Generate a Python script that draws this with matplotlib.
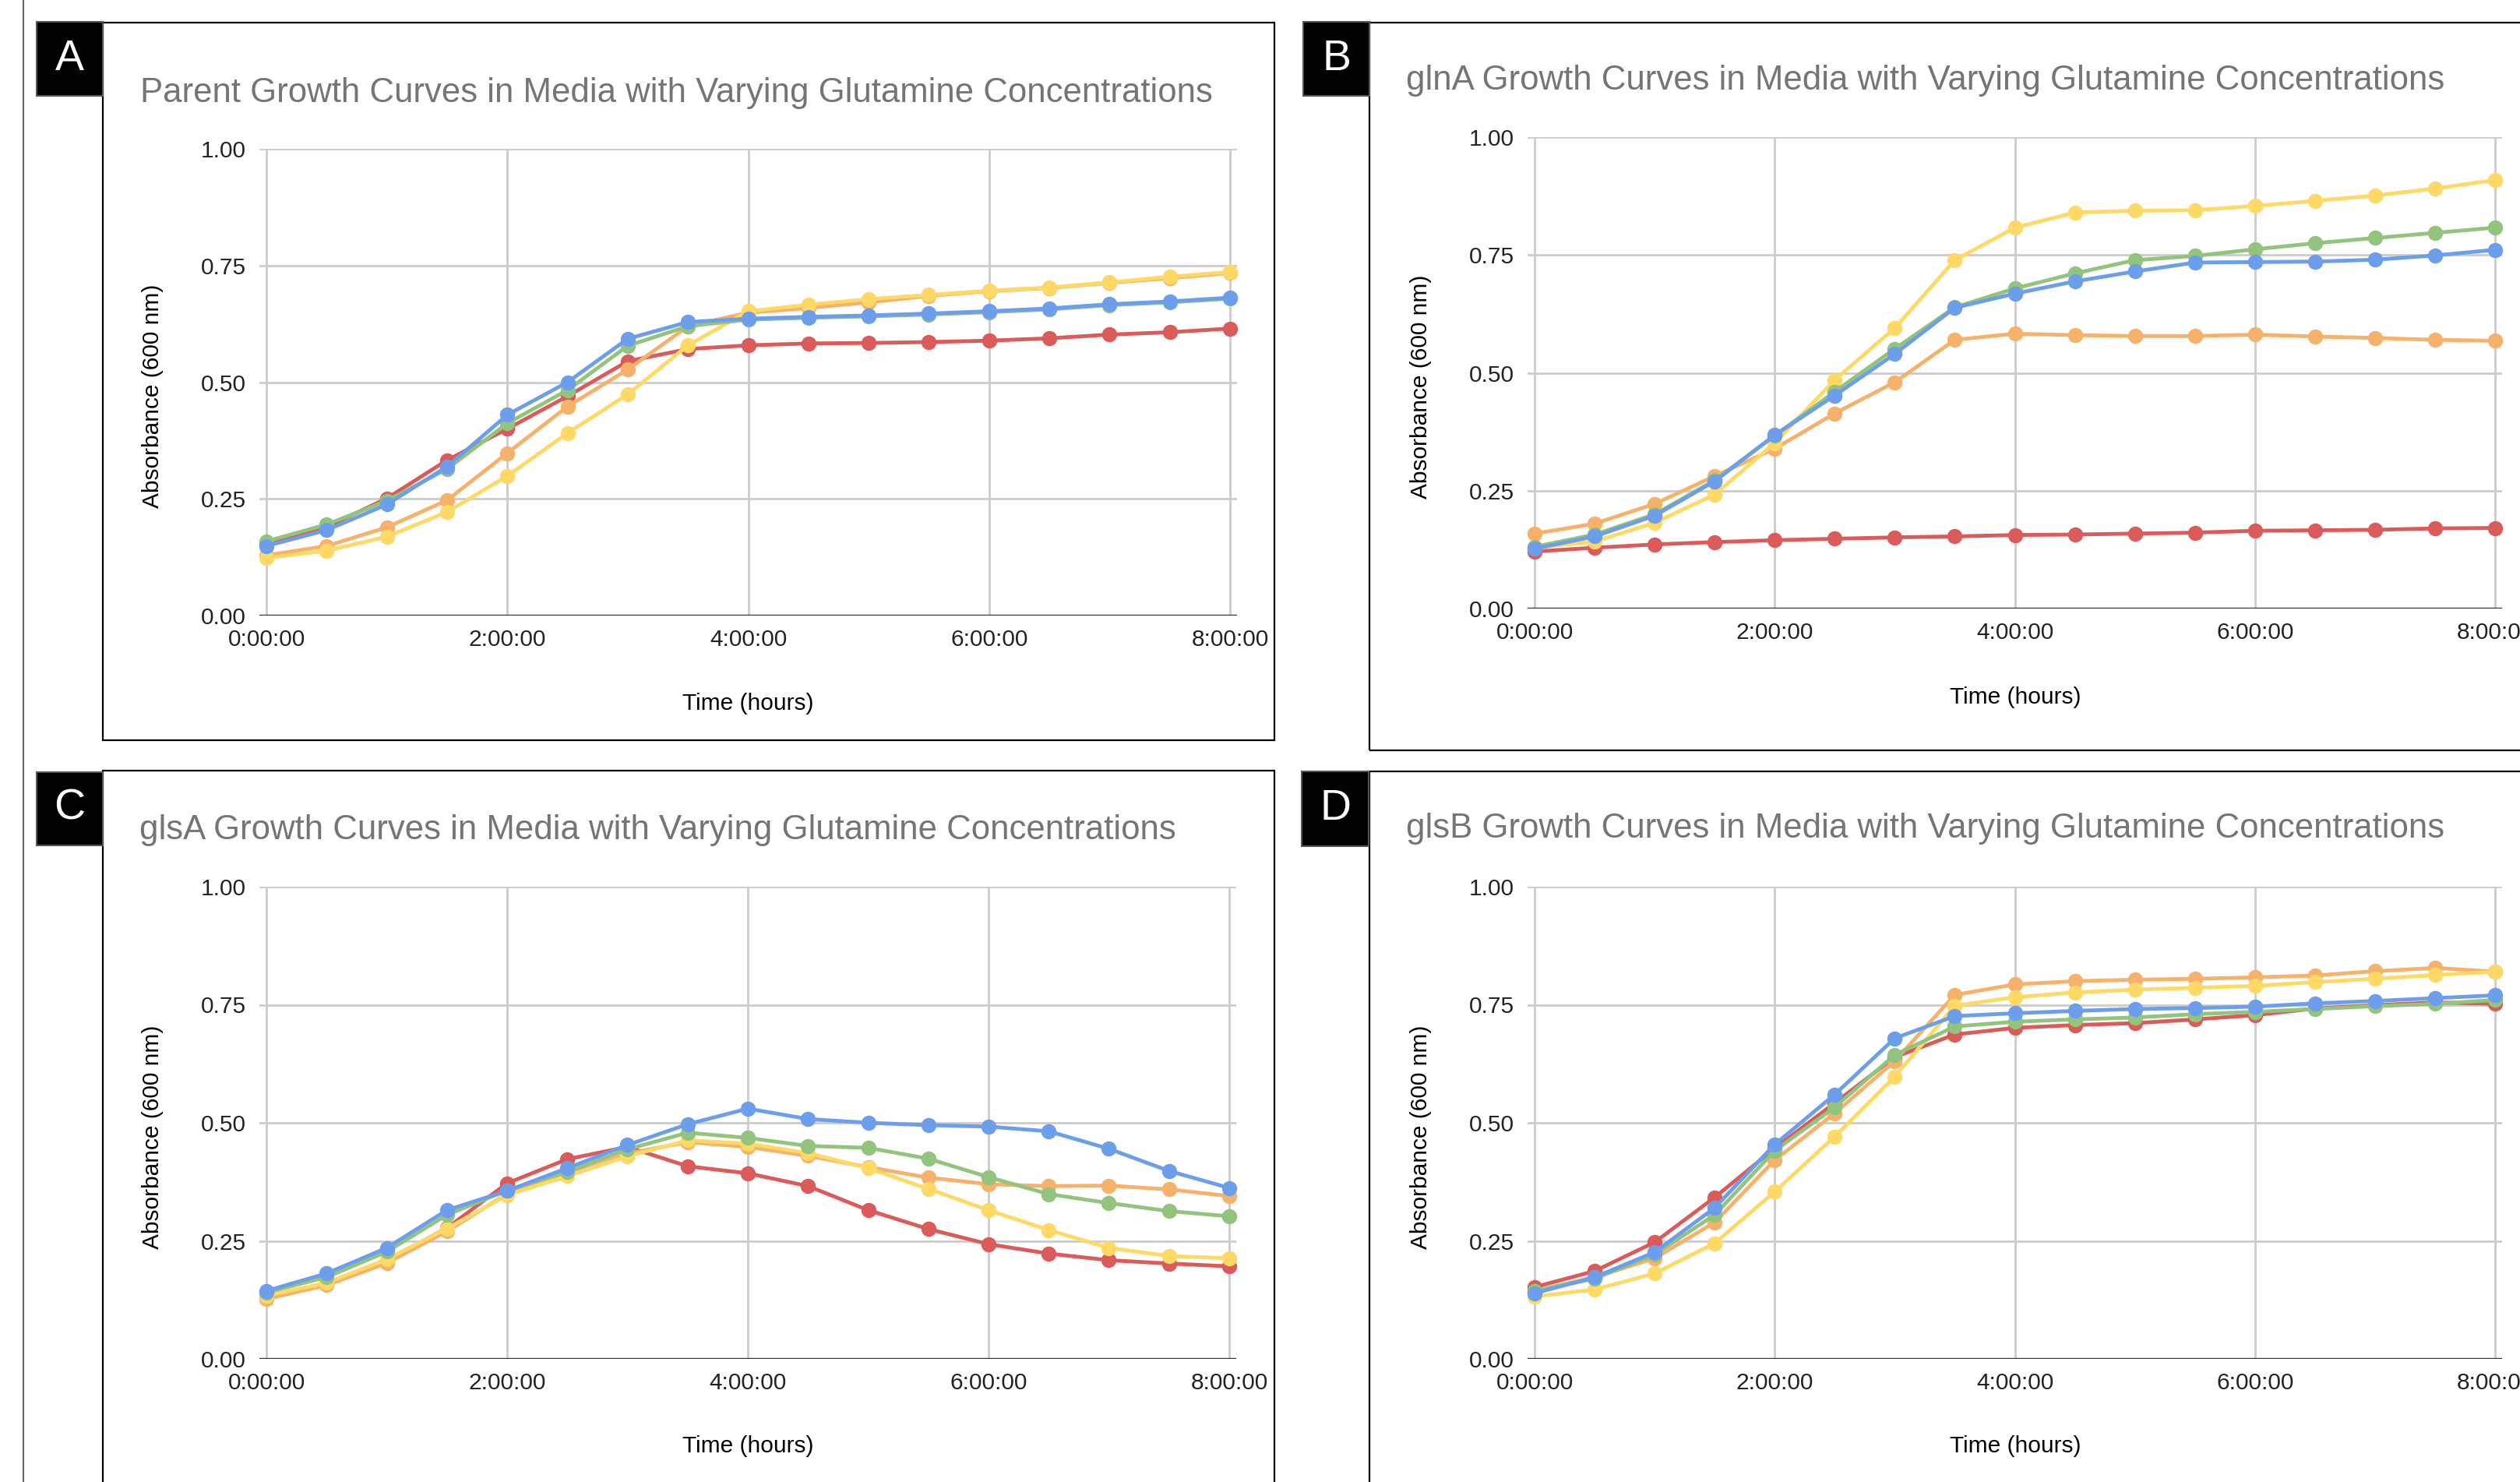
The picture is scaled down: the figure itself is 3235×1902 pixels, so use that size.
import matplotlib
matplotlib.use("Agg")
import matplotlib.pyplot as plt
from matplotlib.patches import Rectangle
from matplotlib.lines import Line2D

W, H = 3235, 1902
plt.rcParams["font.family"] = ["Liberation Sans", "DejaVu Sans"]

HOURS = [0, 0.5, 1, 1.5, 2, 2.5, 3, 3.5, 4, 4.5, 5, 5.5, 6, 6.5, 7, 7.5, 8]
TICK_HOURS = [0, 2, 4, 6, 8]
TICK_LABELS = ["0:00:00", "2:00:00", "4:00:00", "6:00:00", "8:00:00"]
Y_TICKS = [0.0, 0.25, 0.5, 0.75, 1.0]
Y_LABELS = ["0.00", "0.25", "0.50", "0.75", "1.00"]

RED, ORANGE, YELLOW, GREEN, BLUE = "#DB5A5A", "#F6B26B", "#FFD966", "#93C47D", "#6D9EEB"

# panel A - parent
parent_red = [0.154, 0.19, 0.251, 0.333, 0.40, 0.47, 0.545, 0.571, 0.579, 0.583, 0.584, 0.586, 0.589, 0.594, 0.602, 0.607, 0.615]
parent_orange = [0.129, 0.149, 0.189, 0.247, 0.348, 0.448, 0.527, 0.620, 0.649, 0.659, 0.671, 0.685, 0.695, 0.702, 0.713, 0.723, 0.734]
parent_yellow = [0.123, 0.139, 0.169, 0.222, 0.299, 0.391, 0.474, 0.579, 0.652, 0.666, 0.678, 0.687, 0.696, 0.703, 0.714, 0.726, 0.736]
parent_green = [0.159, 0.195, 0.246, 0.314, 0.412, 0.483, 0.578, 0.620, 0.634, 0.638, 0.641, 0.645, 0.650, 0.656, 0.665, 0.671, 0.679]
parent_blue = [0.149, 0.183, 0.238, 0.319, 0.43, 0.50, 0.593, 0.629, 0.636, 0.640, 0.643, 0.647, 0.652, 0.658, 0.667, 0.673, 0.681]

# panel B - glnA
glna_red = [0.121, 0.129, 0.136, 0.141, 0.145, 0.148, 0.151, 0.153, 0.156, 0.157, 0.159, 0.161, 0.165, 0.166, 0.167, 0.170, 0.171]
glna_orange = [0.159, 0.180, 0.222, 0.281, 0.339, 0.414, 0.480, 0.570, 0.583, 0.580, 0.578, 0.578, 0.581, 0.577, 0.574, 0.570, 0.568]
glna_yellow = [0.129, 0.142, 0.182, 0.242, 0.351, 0.485, 0.595, 0.739, 0.808, 0.840, 0.844, 0.845, 0.854, 0.865, 0.876, 0.891, 0.909]
glna_green = [0.131, 0.157, 0.200, 0.272, 0.367, 0.460, 0.551, 0.639, 0.679, 0.711, 0.739, 0.748, 0.762, 0.775, 0.786, 0.797, 0.808]
glna_blue = [0.127, 0.153, 0.197, 0.270, 0.368, 0.452, 0.540, 0.638, 0.668, 0.694, 0.715, 0.734, 0.735, 0.736, 0.740, 0.749, 0.761]

# panel C - glsA
glsa_red = [0.134, 0.159, 0.208, 0.277, 0.372, 0.423, 0.449, 0.408, 0.393, 0.366, 0.315, 0.275, 0.243, 0.223, 0.209, 0.202, 0.196]
glsa_orange = [0.127, 0.156, 0.203, 0.270, 0.350, 0.389, 0.435, 0.459, 0.449, 0.430, 0.406, 0.384, 0.370, 0.366, 0.367, 0.359, 0.345]
glsa_yellow = [0.134, 0.161, 0.211, 0.276, 0.347, 0.387, 0.429, 0.463, 0.456, 0.436, 0.404, 0.360, 0.315, 0.273, 0.235, 0.218, 0.213]
glsa_green = [0.141, 0.173, 0.227, 0.305, 0.357, 0.396, 0.444, 0.479, 0.468, 0.451, 0.447, 0.424, 0.385, 0.349, 0.330, 0.313, 0.302]
glsa_blue = [0.144, 0.181, 0.235, 0.315, 0.356, 0.404, 0.453, 0.497, 0.530, 0.508, 0.500, 0.495, 0.492, 0.482, 0.445, 0.398, 0.362]

# panel D - glsB
glsb_red = [0.152, 0.186, 0.247, 0.342, 0.446, 0.542, 0.639, 0.687, 0.701, 0.707, 0.711, 0.719, 0.728, 0.742, 0.749, 0.755, 0.752]
glsb_orange = [0.144, 0.173, 0.213, 0.289, 0.421, 0.520, 0.631, 0.771, 0.793, 0.800, 0.803, 0.805, 0.808, 0.812, 0.821, 0.828, 0.820]
glsb_yellow = [0.132, 0.147, 0.181, 0.245, 0.354, 0.471, 0.598, 0.748, 0.766, 0.776, 0.782, 0.786, 0.790, 0.798, 0.805, 0.813, 0.820]
glsb_green = [0.144, 0.170, 0.221, 0.305, 0.441, 0.533, 0.644, 0.704, 0.714, 0.719, 0.723, 0.730, 0.735, 0.741, 0.747, 0.752, 0.760]
glsb_blue = [0.139, 0.173, 0.226, 0.320, 0.454, 0.560, 0.679, 0.726, 0.732, 0.737, 0.741, 0.743, 0.746, 0.753, 0.758, 0.764, 0.770]

TITLES = {
    "A": "Parent Growth Curves in Media with Varying Glutamine Concentrations",
    "B": "glnA Growth Curves in Media with Varying Glutamine Concentrations",
    "C": "glsA Growth Curves in Media with Varying Glutamine Concentrations",
    "D": "glsB Growth Curves in Media with Varying Glutamine Concentrations",
}

fig = plt.figure(figsize=(W / 100, H / 100), dpi=100)


def fx(x):
    return x / W


def fy(y):
    return 1 - y / H


def rect(x0, y0, x1, y1, **kw):
    fig.patches.append(Rectangle((fx(x0), fy(y1)), (x1 - x0) / W, (y1 - y0) / H,
                                 transform=fig.transFigure, **kw))


def panel(letter, series, box, tag, x0, x8, ytop, ybot, title_xy, ylab_xy, xlab_xy):
    rect(*box, fill=False, ec="black", lw=1.6)
    rect(*tag, fc="black", ec="#555555", lw=1.5, zorder=2)
    fig.text(fx((tag[0] + tag[2]) / 2), fy((tag[1] + tag[3]) / 2), letter,
             color="white", fontsize=40, ha="center", va="center", zorder=3)

    ppu = (x8 - x0) / 8
    xmin, xmax = -0.06, 8.06
    left, right = x0 + xmin * ppu, x0 + xmax * ppu
    ax = fig.add_axes([fx(left), fy(ybot), (right - left) / W, (ybot - ytop) / H])
    ax.set_xlim(xmin, xmax)
    ax.set_ylim(0, 1)
    for s in ax.spines.values():
        s.set_visible(False)
    ax.patch.set_alpha(0)
    ax.set_xticks(TICK_HOURS, TICK_LABELS)
    ax.set_yticks(Y_TICKS, Y_LABELS)
    ax.tick_params(length=0, labelsize=21.5, pad=12, colors="#222222")
    for y in Y_TICKS[1:]:
        ax.axhline(y, color="#cccccc", lw=2, zorder=0)
    for x in TICK_HOURS:
        ax.plot([x, x], [0, 1], color="#cccccc", lw=2, zorder=0)
    ax.axhline(0, color="#333333", lw=2.4, zorder=1)
    for c, vals in zip([RED, ORANGE, YELLOW, GREEN, BLUE], series):
        ax.plot(HOURS, vals, "-o", color=c, lw=3.5, ms=13, zorder=3, clip_on=False)

    fig.text(fx(title_xy[0]), fy(title_xy[1]), TITLES[letter], fontsize=31.5,
             color="#757575", ha="left", va="center")
    fig.text(fx(ylab_xy[0]), fy(ylab_xy[1]), "Absorbance (600 nm)", rotation=90,
             fontsize=21.5, ha="center", va="center")
    fig.text(fx(xlab_xy[0]), fy(xlab_xy[1]), "Time (hours)", fontsize=21.5,
             ha="center", va="center")


fig.add_artist(Line2D([fx(30), fx(30)], [0, 1], transform=fig.transFigure, color="#666666", lw=1.5))

panel("A", [parent_red, parent_orange, parent_yellow, parent_green, parent_blue],
      (132, 29, 1636, 950), (47, 28, 132, 123), 342, 1579, 191, 790,
      (180, 119), (196, 508), (960, 903))
panel("B", [glna_red, glna_orange, glna_yellow, glna_green, glna_blue],
      (1758, 29, 3300, 963), (1673, 28, 1758, 123), 1970, 3203, 176, 781,
      (1805, 103), (1824, 496), (2587, 895))
panel("C", [glsa_red, glsa_orange, glsa_yellow, glsa_green, glsa_blue],
      (132, 989, 1636, 1960), (47, 991, 132, 1085), 342, 1578, 1138, 1744,
      (179, 1065), (196, 1459), (960, 1856))
panel("D", [glsb_red, glsb_orange, glsb_yellow, glsb_green, glsb_blue],
      (1758, 990, 3300, 1960), (1671, 990, 1757, 1086), 1970, 3203, 1138, 1744,
      (1805, 1063), (1824, 1459), (2587, 1856))

fig.savefig("out.png", dpi=100)
